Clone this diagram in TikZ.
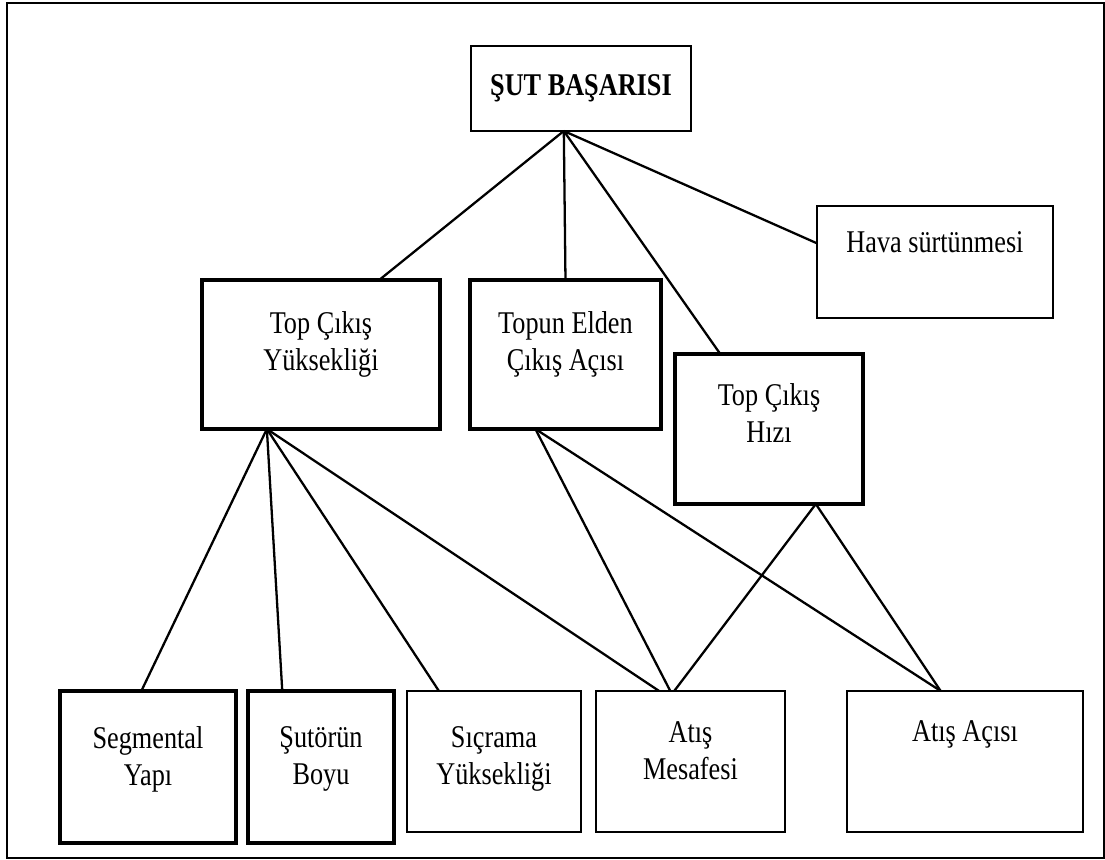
\documentclass[tikz,border=0pt]{standalone}
\usepackage{fontspec}
\setmainfont{Liberation Serif}[FakeStretch=0.83]
\usetikzlibrary{positioning}

\begin{document}
\begin{tikzpicture}[
		x=0.02cm, y=-0.02cm,
		font=\fontsize{18}{21}\selectfont,
		box/.style={draw, line width=1.5pt, anchor=north west, inner sep=0pt, outer sep=0pt},
		heavybox/.style={box, line width=2.4pt},
		caption/.style={align=center, inner sep=0pt, anchor=north},
		link/.style={line width=1.3pt}
	]
	\useasboundingbox (0,0) rectangle (1105,859);
	\draw[line width=1.2pt] (7,3) rectangle (1104,858);

	% first and second level
	\node[box, minimum width=4.4cm, minimum height=1.7cm, font=\fontsize{18}{21}\selectfont\bfseries] (basari) at (471,46) {ŞUT BAŞARISI};
	\node[box, minimum width=4.72cm, minimum height=2.24cm] (hava) at (817,206) {};
	\node[heavybox, minimum width=4.76cm, minimum height=2.98cm] (topyuk) at (202,280) {};
	\node[heavybox, minimum width=3.82cm, minimum height=2.98cm] (topun) at (470,280) {};
	\node[heavybox, minimum width=3.76cm, minimum height=3cm] (hiz) at (675,354) {};

	\node[caption, below=0.5cm of hava.north] (havatxt) {Hava sürtünmesi};
	\node[caption, below=0.62cm of topyuk.north] (topyuktxt) {Top Çıkış\\Yüksekliği};
	\node[caption, below=0.62cm of topun.north] (toputxt) {Topun Elden\\Çıkış Açısı};
	\node[caption, below=0.58cm of hiz.north] (hiztxt) {Top Çıkış\\Hızı};

	% bottom level
	\node[heavybox, minimum width=3.52cm, minimum height=3.04cm] (segm) at (60,691) {};
	\node[heavybox, minimum width=2.92cm, minimum height=3.04cm] (boyu) at (248,691) {};
	\node[box, minimum width=3.48cm, minimum height=2.82cm] (sicrama) at (407,691) {};
	\node[box, minimum width=3.78cm, minimum height=2.82cm] (mesafe) at (596,691) {};
	\node[box, minimum width=4.72cm, minimum height=2.82cm] (aci) at (847,691) {};

	\node[caption, below=0.7cm of segm.north] (segmtxt) {Segmental\\Yapı};
	\node[caption, below=0.7cm of boyu.north] (boyutxt) {Şutörün\\Boyu};
	\node[caption, below=0.7cm of sicrama.north] (sicramatxt) {Sıçrama\\Yüksekliği};
	\node[caption, below=0.6cm of mesafe.north] (mesafetxt) {Atış\\Mesafesi};
	\node[caption, below=0.58cm of aci.north] (acitxt) {Atış Açısı};

	\draw[link] (basari.248) -- (topyuk.52);
	\draw[link] (basari.248) -- (topun.north);
	\draw[link] (basari.248) -- (hiz.123);
	\draw[link] (basari.248) -- (hava.171);

	\draw[link] (topyuk.234) -- (segm.95);
	\draw[link] (topyuk.234) -- (boyu.117);
	\draw[link] (topyuk.234) -- (sicrama.128.5);
	\draw[link] (topyuk.234) -- (mesafe.114);

	\draw[link] (topun.248.4) -- (mesafe.106);
	\draw[link] (topun.248.4) -- (aci.109);
	\draw[link] (hiz.302.6) -- (mesafe.103);
	\draw[link] (hiz.302.6) -- (aci.109);
\end{tikzpicture}
\end{document}
